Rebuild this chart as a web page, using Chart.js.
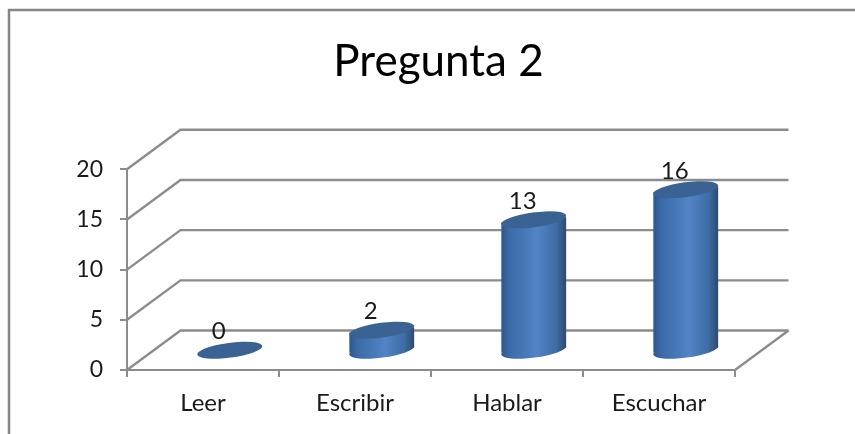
<!DOCTYPE html>
<html><head><meta charset="utf-8">
<style>html,body{margin:0;padding:0;background:#fff}#w{position:absolute;left:0;top:0;width:855px;height:434px}</style>
<script src="https://cdn.jsdelivr.net/npm/chart.js@4"></script></head>
<body><div id="w"><canvas id="c" width="855" height="434"></canvas></div>
<script>
const chartTitle = "Pregunta 2";
const categories = ["Leer", "Escribir", "Hablar", "Escuchar"];
const values = [0, 2, 13, 16];
const yTicks = [0, 5, 10, 15, 20];
const FONT = 'Lato, "Open Sans", sans-serif';
const GRID = '#8c8c8c';
const DX = 53.5, DY = -39.5;

const frame3d = {
  id: 'frame3d',
  beforeDraw(ch) {
    const c = ch.ctx;
    c.save(); c.strokeStyle = '#868686'; c.lineWidth = 2.5;
    c.beginPath(); c.moveTo(9, 434); c.lineTo(9, 10); c.lineTo(855, 10); c.stroke();
    c.restore();
  },
  beforeDatasetsDraw(ch) {
    const c = ch.ctx, y = ch.scales.y, a = ch.chartArea;
    c.save(); c.strokeStyle = GRID; c.lineWidth = 2.4;
    yTicks.forEach(v => {
      const p = y.getPixelForValue(v);
      c.beginPath(); c.moveTo(a.left, p); c.lineTo(a.left + DX, p + DY); c.lineTo(a.right + DX, p + DY); c.stroke();
    });
    const p0 = y.getPixelForValue(0);
    c.beginPath(); c.moveTo(a.right, p0); c.lineTo(a.right + DX, p0 + DY); c.stroke();
    c.restore();
  },
  afterDatasetsDraw(ch) {
    const c = ch.ctx, y = ch.scales.y, meta = ch.getDatasetMeta(0);
    const A = 32.8, B = 7.4, T = -7.5 * Math.PI / 180;
    const HW = 32.4, TAN = 2.6;
    meta.data.forEach((el, i) => {
      const v = values[i];
      const cx = el.x + DX / 2;
      const yb = y.getPixelForValue(0) + DY / 2;
      const yt = y.getPixelForValue(v) + DY / 2;
      if (v > 0) {
        const g = c.createLinearGradient(cx - HW, 0, cx + HW, 0);
        g.addColorStop(0, '#2f5686'); g.addColorStop(0.12, '#3a6aa6');
        g.addColorStop(0.55, '#5284c6'); g.addColorStop(0.85, '#3e6da6'); g.addColorStop(1, '#2b4a73');
        c.fillStyle = g;
        c.beginPath(); c.ellipse(cx, yb, A, B, T, 0, Math.PI * 2); c.fill();
        c.beginPath();
        c.moveTo(cx - HW, yb + TAN); c.lineTo(cx - HW, yt + TAN);
        c.lineTo(cx + HW, yt - TAN); c.lineTo(cx + HW, yb - TAN); c.closePath(); c.fill();
      }
      c.fillStyle = '#3a6292';
      c.beginPath(); c.ellipse(cx, yt, A, B, T, 0, Math.PI * 2); c.fill();
      c.fillStyle = '#1a1a1a'; c.font = '24px ' + FONT;
      c.textAlign = 'center'; c.textBaseline = 'alphabetic';
      c.fillText(String(v), cx - 11, yt - 11);
    });
  }
};

new Chart(document.getElementById('c'), {
  type: 'bar',
  data: { labels: categories, datasets: [{ data: values, backgroundColor: 'rgba(0,0,0,0)', borderWidth: 0 }] },
  plugins: [frame3d],
  options: {
    responsive: false, animation: false,
    layout: { padding: { left: 22, right: 0, top: 0, bottom: 0 } },
    plugins: {
      legend: { display: false }, tooltip: { enabled: false },
      title: { display: true, text: chartTitle, color: '#000', font: { family: FONT, size: 44, weight: 'normal', lineHeight: 1.2 }, padding: { top: 35.5, bottom: 81 } }
    },
    scales: {
      x: {
        afterFit(s) { s.height = 64; },
        grid: { drawOnChartArea: false, color: GRID, lineWidth: 2, tickLength: 7 },
        border: { color: GRID, width: 2 },
        ticks: { color: '#1a1a1a', font: { family: FONT, size: 24 }, padding: 12 }
      },
      y: {
        min: 0, max: 20,
        afterFit(s) { s.width = 105; },
        grid: { drawOnChartArea: false, color: GRID, lineWidth: 2, tickLength: 7 },
        border: { color: GRID, width: 2 },
        ticks: { stepSize: 5, color: '#1a1a1a', font: { family: FONT, size: 23 }, padding: 17 }
      },
      yRight: {
        position: 'right', min: 0, max: 20,
        afterFit(s) { s.width = 120; },
        grid: { display: false }, border: { display: false }, ticks: { display: false }
      }
    }
  }
});
</script></body></html>
